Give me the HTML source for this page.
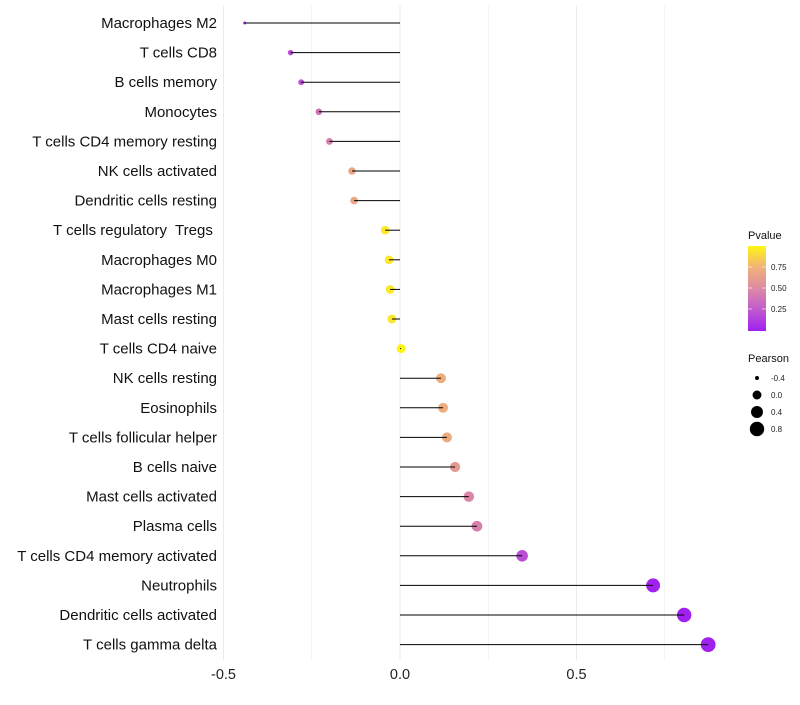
<!DOCTYPE html>
<html><head><meta charset="utf-8"><style>
body{margin:0;background:#fff;font-family:"Liberation Sans",sans-serif}
</style></head><body>
<svg id="c" width="800" height="700" xmlns="http://www.w3.org/2000/svg"></svg>
<script>
const categories=["Macrophages M2","T cells CD8","B cells memory","Monocytes","T cells CD4 memory resting","NK cells activated","Dendritic cells resting","T cells regulatory  Tregs ","Macrophages M0","Macrophages M1","Mast cells resting","T cells CD4 naive","NK cells resting","Eosinophils","T cells follicular helper","B cells naive","Mast cells activated","Plasma cells","T cells CD4 memory activated","Neutrophils","Dendritic cells activated","T cells gamma delta"];
const pearson=[-0.44,-0.31,-0.28,-0.23,-0.20,-0.136,-0.13,-0.042,-0.031,-0.028,-0.023,0.003,0.116,0.122,0.133,0.156,0.195,0.218,0.346,0.717,0.805,0.873];
const pvalue=[0.05,0.2,0.22,0.38,0.45,0.68,0.68,0.95,0.95,0.95,0.95,1.0,0.72,0.72,0.7,0.6,0.48,0.45,0.2,0.01,0.0,0.0];
const xTicks=[-0.5,0,0.5];
const xTickLabels=["-0.5","0.0","0.5"];
const pTicks=[0.25,0.5,0.75];
const sizeLegend=[-0.4,0.0,0.4,0.8];
const NS="http://www.w3.org/2000/svg";
const svg=document.getElementById('c');
const x=v=>400+v*353;
const y=i=>23+i*29.6;
const r=v=>Math.sqrt(2.25+(v+0.44)*40);
const stops=[[0,[160,32,240]],[0.25,[192,90,205]],[0.5,[220,138,165]],[0.75,[240,178,120]],[1,[255,245,20]]];
function col(p){
  let i=0;while(i<stops.length-2&&p>stops[i+1][0])i++;
  const a=stops[i],b=stops[i+1];
  const t=Math.max(0,Math.min(1,(p-a[0])/(b[0]-a[0])));
  const c=a[1].map((v,k)=>Math.round(v+(b[1][k]-v)*t));
  return `rgb(${c})`;
}
function el(t,at,txt){const e=document.createElementNS(NS,t);for(const k in at)e.setAttribute(k,at[k]);if(txt!==undefined)e.textContent=txt;svg.appendChild(e);return e;}
[-0.25,0.25,0.75].forEach(v=>{const g=el('line',{x1:x(v),x2:x(v),y1:5,y2:660,stroke:'#ebebeb','stroke-width':0.6});

});
xTicks.forEach((v,i)=>{const g=el('line',{x1:x(v),x2:x(v),y1:5,y2:660,stroke:'#ebebeb','stroke-width':1});


const t=el('text',{x:x(v),y:679,'text-anchor':'middle','font-size':14.5,fill:'#222'},xTickLabels[i]);

});
categories.forEach((c,i)=>{
  const t=el('text',{x:217,y:y(i)+5,'text-anchor':'end','font-size':15,fill:'#111','xml:space':'preserve'},c);
  t.style.whiteSpace='pre';
  
  
  const d=el('circle',{cx:x(pearson[i]),cy:y(i),r:r(pearson[i]),fill:col(pvalue[i])});
  
  
  const l=el('line',{x1:x(0),x2:x(pearson[i]),y1:y(i),y2:y(i),stroke:'#000','stroke-width':1});
  
  
});
const defs=el('defs',{});
const lg=document.createElementNS(NS,'linearGradient');lg.setAttribute('id','pg');lg.setAttribute('x1',0);lg.setAttribute('x2',0);lg.setAttribute('y1',1);lg.setAttribute('y2',0);
[0,0.25,0.5,0.75,1].forEach(p=>{const s=document.createElementNS(NS,'stop');s.setAttribute('offset',p);s.setAttribute('stop-color',col(p));lg.appendChild(s);});
defs.appendChild(lg);
const lt=el('text',{x:748,y:239,'font-size':11,fill:'#111'},'Pvalue');


const cb=el('rect',{x:748,y:246,width:18,height:85,fill:'url(#pg)'});


const py=p=>330-p*84;
pTicks.forEach(p=>{el('line',{x1:748,x2:752,y1:py(p),y2:py(p),stroke:'#fff','stroke-width':0.6});el('line',{x1:762,x2:766,y1:py(p),y2:py(p),stroke:'#fff','stroke-width':0.6});
const t=el('text',{x:771,y:py(p)+3,'font-size':8,fill:'#222'},p.toFixed(2));

});
const st=el('text',{x:748,y:362,'font-size':11,fill:'#111'},'Pearson');


sizeLegend.forEach((v,i)=>{const cy=378+i*17;
const c=el('circle',{cx:757,cy:cy,r:r(v),fill:'#000'});


const t=el('text',{x:771,y:cy+3,'font-size':8,fill:'#222'},v.toFixed(1));

});
</script>
</body></html>
